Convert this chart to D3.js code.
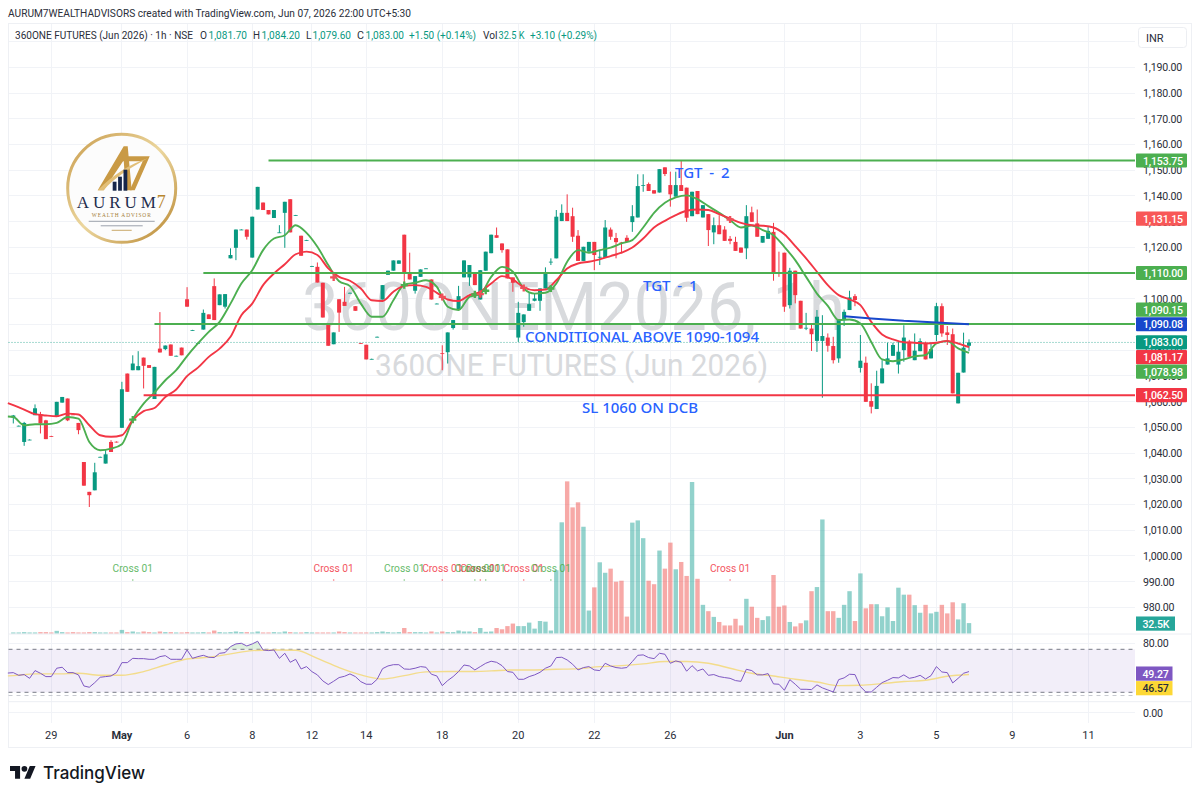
<!DOCTYPE html>
<html>
<head>
<meta charset="utf-8">
<style>
  html, body { margin: 0; padding: 0; background: #fff; }
  svg { display: block; }
  text { font-family: Roboto, sans-serif; }
</style>
</head>
<body>
<div id="chart"></div>
<script src="https://cdnjs.cloudflare.com/ajax/libs/d3/7.8.5/d3.min.js"></script>
<script>
// 1h bars, index 0 .. 176
var opens = [1053.8,1050.5,1044.3,1045.1,1054.7,1055.1,1052.7,1046.6,1054.05,1059.6,1061.2,1055,1051.7,1036.5,1024.9,1025.5,1038.4,1035.9,1044.3,1044.4,
  1049.8,1070.9,1072.2,1072.2,1077.1,1074.2,1061,1080.6,1080.4,1082.2,1077.7,1081,1099.8,1087.7,1082.7,1088,1093.9,1104.9,1097.5,1096.9,
  1115.7,1119.8,1126.8,1126.9,1116,1134.7,1137.4,1134.5,1131.4,1125.7,1133.4,1138.7,1132.4,1124.5,1122.7,1112.6,1112.4,1106.2,1090,1082.3,
  1099.8,1098.8,1102.2,1097.1,1082.7,1082.1,1076.5,1085.1,1099.7,1109.3,1110.9,1113.6,1124.9,1109.8,1103.1,1108.5,1111.7,1107.5,1098,1078.8,
  1079.2,1088.6,1095.8,1108.3,1108.3,1109.8,1099.7,1110.9,1117.7,1124.7,1121.5,1119.2,1108.3,1084.9,1090.9,1095.3,1099.2,1099.2,1104,1114.3,
  1115.7,1130.2,1133.4,1132.1,1124.5,1114.7,1118.3,1122.1,1116.2,1115.9,1126.9,1123.6,1121.9,1123.7,1129.8,1131.6,1144.1,1144.6,1142.2,1141.3,
  1151.1,1144.2,1139.7,1144.2,1143.2,1132.1,1141.9,1131.6,1132.9,1125.8,1128.6,1126.9,1123.3,1122.1,1119.9,1119.6,1133.6,1129.3,1121.8,1123.3,
  1126,1110.2,1117.9,1097.5,1110.9,1099.2,1088.6,1088.4,1083.6,1083.6,1084.9,1081.6,1076.8,1091.7,1095.6,1101,1073.1,1075.1,1060.2,1057.1,
  1067.1,1074.4,1077.8,1074.4,1080,1083.3,1076.1,1079.6,1082.4,1076.8,1085.9,1097.1,1086.9,1086.2,1059.3,1071.3,1081.7];
var highs = [1054.8,1050.7,1052.1,1045.3,1058.9,1056,1052.9,1046.7,1059.9,1061.8,1061.2,1055.2,1051.7,1036.5,1024.9,1036.2,1038.6,1041.3,1045,1044.5,
  1067.7,1070.9,1078,1079.6,1077.1,1074.2,1073.5,1094.8,1081.8,1082.2,1077.9,1081,1104.5,1087.9,1082.9,1095.8,1093.9,1107.9,1101.7,1101.8,
  1119.6,1126.9,1127,1126.9,1131.9,1143.5,1137.4,1134.5,1134.5,1128.6,1137.7,1138.7,1132.6,1124.5,1122.9,1112.8,1114.1,1106.2,1090,1086.9,
  1099.8,1104.6,1102.4,1097.1,1082.8,1082.1,1076.7,1085.3,1105.3,1110.9,1114.9,1114.9,1124.9,1117.9,1108.8,1111.4,1111.9,1107.5,1098.2,1081.9,
  1086.9,1091.7,1105,1114.9,1113.1,1109.8,1111.1,1118.3,1124.9,1127.7,1121.5,1119.2,1108.3,1098.8,1093.9,1102.3,1102,1104,1112.2,1115.7,
  1134.5,1136.7,1140.6,1135.4,1126.7,1120.2,1122.1,1122.1,1118.6,1130.6,1127.7,1125.6,1122.1,1124.7,1136.4,1148.4,1148.4,1145.2,1142.2,1150.4,
  1151.1,1149.4,1149.4,1153.7,1143.2,1141.6,1141.9,1136.4,1132.9,1131.6,1132.5,1128.2,1124.4,1124.1,1119.9,1136.4,1135.8,1134.7,1124.4,1128.2,
  1129.5,1118.3,1117.9,1112,1110.9,1099.2,1094.5,1090,1095.6,1093.6,1086.5,1085.2,1092,1095.8,1103.1,1101.8,1085.9,1077.5,1067.1,1072,
  1076.1,1082.9,1082.9,1083.3,1089.7,1084,1086.5,1084.6,1083.3,1083,1098.4,1098.2,1089.4,1088.4,1071.2,1086.8,1084.2];
var lows = [1051.5,1050.4,1042.8,1045,1054.7,1047.6,1045.4,1046.3,1054,1059.6,1052.4,1054.8,1047.3,1027.3,1019,1025.5,1038.3,1035.9,1040.4,1044.1,
  1049.8,1063.8,1072.2,1072.2,1065.1,1073.1,1061,1079.1,1080,1077.8,1077.6,1078,1096.9,1087.6,1082.6,1088,1092.1,1091.7,1097.5,1096.2,
  1115.7,1115,1126.7,1123,1116,1134.7,1134.5,1132.8,1131.4,1125.6,1119.8,1125.8,1132.3,1116.7,1122.6,1112.5,1106.3,1092.7,1081.7,1082.3,
  1087.1,1097.2,1102.1,1095.3,1082.5,1076.4,1076.4,1085,1099.7,1109.3,1110.9,1113.6,1104.6,1107.5,1102,1108.5,1111.6,1099.7,1097.9,1072.2,
  1074.8,1088,1095.8,1108.3,1105,1105.3,1099.7,1110.9,1117.7,1123.7,1117.9,1107.9,1102.7,1083.2,1089.1,1095.3,1099,1095.3,1104,1113.1,
  1115.7,1130.2,1130.2,1122.1,1114.7,1114.7,1118.3,1111.1,1113.1,1115.9,1122.9,1115.7,1117.6,1122.1,1126,1131.6,1141.6,1141.9,1140.9,1141.3,
  1147.7,1135.8,1139.7,1141.9,1129.9,1132.1,1132.9,1131.6,1120.5,1121.2,1125.1,1122.5,1121.2,1118.6,1117.9,1115.4,1129.9,1124.1,1121.8,1123.3,
  1107,1108.5,1094.9,1096.2,1098.2,1088.4,1087.8,1079.7,1079.3,1061.5,1079.4,1074.8,1075.1,1089.4,1095.6,1097.1,1071.3,1059.9,1055.4,1057.1,
  1067.1,1074.4,1077.8,1070.9,1075.5,1077.4,1076.1,1079.6,1076.4,1076.8,1083.5,1085.2,1082,1063.2,1059.3,1071.3,1079.6];
var closes = [1054.6,1050.6,1051.7,1045.2,1057.4,1051.5,1045.4,1046.4,1059.9,1061.8,1052.7,1054.9,1048.9,1027.3,1023.6,1032.5,1038.5,1039.5,1040.4,1044.2,
  1064.8,1063.8,1074.8,1073.8,1073.9,1073.1,1073.5,1079.1,1081.8,1077.8,1077.8,1078,1096.9,1087.8,1082.8,1094.5,1092.1,1091.7,1101.7,1101.8,
  1117,1126.9,1126.9,1124.1,1131.9,1143.5,1134.5,1132.8,1134.5,1125.8,1137.7,1125.8,1132.5,1116.7,1122.8,1112.7,1106.3,1092.7,1081.7,1086.9,
  1094.6,1097.2,1102.3,1095.3,1082.6,1076.4,1076.6,1085.2,1105.3,1110.9,1114.9,1114.9,1109.8,1107.5,1108.8,1111.4,1111.8,1099.7,1098.1,1078.7,
  1086.9,1091.7,1101,1114.9,1113.1,1105.3,1111.1,1118.3,1124.9,1123.7,1118.9,1107.9,1106.2,1094.5,1093.9,1097.9,1100.1,1104,1109.8,1114.4,
  1131.9,1133.4,1130.2,1124.1,1114.7,1120.2,1122.1,1117,1116.3,1127.7,1124.1,1122,1121.7,1122.1,1132.1,1143.8,1144.2,1141.9,1140.9,1150.4,
  1148.5,1140.6,1144.2,1141.9,1131.5,1141.6,1132.9,1136.4,1126.7,1128.6,1125.1,1122.5,1122.5,1118.6,1117.9,1132.1,1129.9,1124.1,1124.4,1126.4,
  1110.1,1110.1,1096.9,1110.9,1101.4,1088.4,1088.7,1086.2,1093,1085.5,1081.7,1076.1,1091.9,1094.9,1100.5,1099.5,1075.9,1059.9,1058,1066.1,
  1072.9,1076.8,1082,1079.4,1084.9,1077.4,1079.8,1083.5,1076.4,1080.4,1097.1,1086.5,1085.9,1063.2,1071.2,1081,1083];
var volumes = [3,3,4,3,3,4,4,3,8,4,3,4,3,3,4,4,3,3,3,3,
  11,4,6,3,6,4,3,6,4,4,3,3,4,3,3,4,3,9,4,3,
  4,6,4,4,3,6,3,3,4,3,6,4,3,3,4,3,3,3,3,3,
  6,4,3,3,3,3,3,4,6,4,3,4,17,4,4,4,3,6,3,6,
  4,4,9,6,6,4,17,5,6,17,13,23,31,23,23,34,15,39,37,9,
  199,350,479,397,413,336,72,145,224,191,204,163,166,53,349,356,300,166,155,261,
  204,286,202,225,181,477,172,90,70,52,36,25,25,46,25,109,84,49,42,54,
  184,84,88,36,22,32,41,133,146,359,70,70,49,90,133,39,189,79,92,92,
  54,82,39,144,122,122,89,65,90,63,68,90,63,98,44,95,32.5];

// moving averages, read every second bar
var maStep = 2;
var maSlow = [1058.6,1056.9,1055.1,1054.6,1054.3,1055.3,1055,1050.8,1046.9,1046.3,1046.9,1052.8,1056.3,1057.5,1061.8,1064.7,1069.9,1073.2,1077.4,1080.6,1085.2,1093.6,1098.1,1105.3,1109.8,1113.4,1117.3,
  1118.3,1117,1111.8,1108.5,1107,1104,1099.4,1099.1,1102.7,1105,1105.3,1104.6,1102.3,1099.7,1099.1,1101.4,1102.7,1105.9,1108.8,1107.5,1104.4,1103.3,1103.6,1107.2,1111.8,1113.7,1114.4,
  1115.3,1116.6,1117.9,1119.9,1123.4,1127.7,1130.3,1132.5,1134.2,1134.7,1134.5,1132.9,1131.2,1129.5,1128.6,1128.4,1127.7,1125.1,1120.5,1115.7,1110.5,1105.3,1101.4,1099.7,1097.5,1091,
  1086.1,1084.2,1083.1,1082.9,1082.6,1082.9,1083.6,1082.6,1081.17];
var maFast = [1054,1050.8,1051.2,1051.2,1051.7,1054,1053.4,1044.3,1041.1,1041.7,1043.4,1053,1059.2,1063.5,1068.3,1072.2,1077.7,1082.6,1087.1,1091,1098.1,1105.9,1111.1,1118.9,1123.4,1124.7,1128.6,
  1125.6,1120.2,1113.1,1106.8,1104.9,1098.1,1093,1093,1099.4,1105.5,1106.2,1107.2,1104.6,1096.9,1095.6,1100.7,1101.8,1108.5,1112.4,1110.5,1104,1102,1102.3,1105.9,1114.4,1118.9,1117.9,
  1118.9,1119.9,1121.5,1122.8,1127.7,1133.4,1137.3,1139.4,1140.2,1138.7,1136,1133.4,1130.6,1127.7,1128.5,1126.7,1124.7,1120.2,1115,1108.5,1102,1097.2,1091.7,1091.9,1090.4,1083.2,
  1076.4,1075.7,1076.4,1077.6,1078.1,1082.6,1083.5,1080.7,1078.98];
// the lines come in from the bar just left of the frame
var leadBar = -1;
var maSlowLead = 1059.4, maFastLead = 1054.2, rsiLead = 47.9, rsiMaLead = 45.3;
var blueBars = [153,158,164,170,176];
var blueValues = [1093.2,1092.3,1091.4,1090.8,1090.08];

// horizontal levels and where they start (bar index)
var levelValues = [1153.75,1110,1090.15,1062.5];
var levelStart = [47,35,26,24];
var levelColors = ["#4caf50","#4caf50","#4caf50","#f23645"];
var lastPrice = 1083;

// RSI
var rsiValues = [48.3,45.8,46.5,43,50.2,47.7,44.6,44.6,52.4,53.3,48.3,48.3,46.2,35.9,34.7,39,44,44.6,45.2,48.3,57.6,57.6,61.6,61.3,61.3,60.7,60.7,63.2,64.1,60.7,60.7,60.7,69.4,61.6,63.2,64.4,62.6,62.3,66.3,66.9,
  72.5,75,75.6,73.1,75,77.5,69.4,68.8,69.4,61.6,66.3,57.9,60.7,51.7,53.9,49.2,46.2,40.6,37.2,40.3,43.7,44.9,47.1,44.6,39.9,37.5,37.5,42.1,52,54.5,55.7,55.7,
  51.7,51.4,52.4,53.9,53.3,46.8,45.2,36.2,40.9,44.6,49.3,55.4,54.5,50.8,53.9,57,58.9,57.9,54.8,49.3,48.6,42.1,42.1,44.6,46.2,48.6,52.4,54.5,62.3,62.6,60.1,56.1,50.8,53,53.9,50.8,50.2,57,54.5,53,52.4,53,58.6,64.4,64.8,62.3,61.3,66.3,65.4,57,59.2,57.9,49.6,54.8,49.9,51.7,45.8,46.5,44.6,
  43.7,43,40.9,40.2,51.4,50.2,46.2,46.2,47.4,37.8,37.5,31.9,41.8,37.5,32.8,32.8,32.5,36.9,34.1,32.2,30.3,41.8,43.4,46.8,46.5,35.3,30.3,30.3,34.7,39,41.2,43.7,43.4,46.2,43,44,45.8,42.4,45.5,53.9,48.9,48.3,38.7,43,47.7,49.27];
var rsiMaStep = 4;
var rsiMa = [45.5,47.1,47.1,47.7,45.8,45.8,49.2,55.4,61,62.6,65.7,68.8,69.4,69.1,61.6,53,46.2,42.4,45.5,49,49.3,49.3,49.9,50.8,50.8,51.4,52,53.9,54.8,56.4,58.6,58.6,57,52.4,47.7,45.2,42.1,39.6,36.2,36.5,38.1,40,41.2,44.9,46.57];
var rsiBands = [70,30];
var rsiExtra = 27;

// axes
var priceTicks = d3.range(980, 1201, 10);
var rsiTicks = [80, 0];
var dateBars = [7,20,32,44,55,65,79,93,107,121,142,156,170,184,198];
var dateLabels = ["29","May","6","8","12","14","18","20","22","26","Jun","3","5","9","11"];

// Cross 01 script markers
var crossBars = [22,59,72,79,85,86,87,94,99,132];
var crossPrices = [1053,1108.3,1105.3,1100.7,1101.7,1101.8,1103.1,1104.2,1104,1130.8];
var crossUp = [true,false,true,false,true,false,true,false,true,false];

// price axis pills
var pillValues = [1153.75,1131.15,1110,1090.15,1090.08,1083,1081.17,1078.98,1062.5];
var pillColors = ["#4caf50","#f85757","#4caf50","#4caf50","#1848cc","#089981","#f23645","#4caf50","#f23645"];

var upColor = "#089981", downColor = "#f23645";
var width = 1200, height = 799;
var left = 8.5, right = 1135, paneBottom = 722.5;

var svg = d3.select("#chart").append("svg").attr("width", width).attr("height", height);

var x = d3.scaleLinear().domain([0, 176]).range([13.3, 969]);
var y = d3.scaleLinear().domain([980, 1190]).range([607.3, 67.3]);
var yVol = d3.scaleLinear().domain([0, 500]).range([633.4, 474.7]);
var yRsi = d3.scaleLinear().domain([70, 30]).range([649.3, 692.3]);
var yRsiAxis = d3.scaleLinear().domain([0, 80]).range([712.5, 643]);

var green = "#4caf50", red = "#f23645", blue = "#2962ff";

// axis text helper, narrows Roboto down to the width of the original labels
function axisText(sel) {
  return sel.attr("font-size", 10.6).attr("letter-spacing", -0.2).attr("fill", "#2a2e39");
}

// page frame
svg.append("rect").attr("x", left).attr("y", 23.5).attr("width", 1183).attr("height", 724)
  .attr("fill", "none").attr("stroke", "#eef0f4");

// title
svg.append("text").attr("x", 8).attr("y", 17).attr("font-size", 10.9).attr("fill", "#2a2e39")
  .attr("textLength", 403).attr("lengthAdjust", "spacingAndGlyphs")
  .text("AURUM7WEALTHADVISORS created with TradingView.com, Jun 07, 2026 22:00 UTC+5:30");

// grid
var grid = svg.append("g").attr("stroke", "#f1f3f7").attr("shape-rendering", "crispEdges");
grid.selectAll(".v").data(dateBars).enter().append("line")
  .attr("x1", function(d) { return x(d); }).attr("x2", function(d) { return x(d); })
  .attr("y1", 24).attr("y2", paneBottom);
grid.selectAll(".h").data(priceTicks).enter().append("line")
  .attr("x1", left).attr("x2", right)
  .attr("y1", function(d) { return y(d); }).attr("y2", function(d) { return y(d); });
grid.selectAll(".r").data(rsiTicks).enter().append("line")
  .attr("x1", left).attr("x2", right)
  .attr("y1", function(d) { return yRsiAxis(d); }).attr("y2", function(d) { return yRsiAxis(d); });

// pane separators run through the price axis too
svg.selectAll(".sep").data([634, 701.7]).enter().append("line")
  .attr("x1", left).attr("x2", 1191.5).attr("y1", function(d) { return d; }).attr("y2", function(d) { return d; })
  .attr("stroke", "#eceef3");

// watermark
svg.append("text").attr("x", 302).attr("y", 330).attr("font-size", 66).attr("fill", "#d8dadd")
  .attr("textLength", 543).attr("lengthAdjust", "spacingAndGlyphs")
  .text("360ONEM2026, 1h");
svg.append("text").attr("x", 375).attr("y", 376).attr("font-size", 31).attr("fill", "#d8dadd")
  .attr("textLength", 393).attr("lengthAdjust", "spacingAndGlyphs")
  .text("360ONE FUTURES (Jun 2026)");

// volume
svg.append("g").selectAll("rect").data(volumes).enter().append("rect")
  .attr("x", function(d, i) { return x(i) - 2.2; })
  .attr("width", 4.4)
  .attr("y", function(d) { return yVol(d); })
  .attr("height", function(d) { return yVol(0) - yVol(d); })
  .attr("fill", function(d, i) { return closes[i] >= opens[i] ? "#26a69a" : "#ef5350"; })
  .attr("opacity", 0.5);

// last price line
svg.append("line").attr("x1", left).attr("x2", right).attr("y1", y(lastPrice)).attr("y2", y(lastPrice))
  .attr("stroke", upColor).attr("stroke-dasharray", "1 2").attr("opacity", 0.7);

// candles
var candles = svg.append("g").selectAll("g").data(closes).enter().append("g")
  .attr("fill", function(d, i) { return d >= opens[i] ? upColor : downColor; })
  .attr("stroke", function(d, i) { return d >= opens[i] ? upColor : downColor; });
candles.append("line")
  .attr("x1", function(d, i) { return x(i); }).attr("x2", function(d, i) { return x(i); })
  .attr("y1", function(d, i) { return y(highs[i]); }).attr("y2", function(d, i) { return y(lows[i]); })
  .attr("stroke-width", 1);
candles.append("rect")
  .attr("x", function(d, i) { return x(i) - 2; })
  .attr("width", 4)
  .attr("y", function(d, i) { return y(Math.max(d, opens[i])); })
  .attr("height", function(d, i) { return Math.max(0.8, Math.abs(y(d) - y(opens[i]))); })
  .attr("stroke", "none");

// moving averages, [bar, value] pairs with the lead point in front
function withLead(values, step, lead) {
  var pts = values.map(function(v, i) { return [i * step, v]; });
  pts.unshift([leadBar, lead]);
  return pts;
}
var maLine = d3.line().x(function(d) { return x(d[0]); }).y(function(d) { return y(d[1]); }).curve(d3.curveMonotoneX);
svg.append("path").datum(withLead(maFast, maStep, maFastLead)).attr("d", maLine).attr("fill", "none").attr("stroke", green).attr("stroke-width", 1.9);
svg.append("path").datum(withLead(maSlow, maStep, maSlowLead)).attr("d", maLine).attr("fill", "none").attr("stroke", red).attr("stroke-width", 1.9);

// levels
svg.selectAll(".level").data(levelValues).enter().append("line")
  .attr("x1", function(d, i) { return x(levelStart[i]); }).attr("x2", right)
  .attr("y1", function(d) { return y(d); }).attr("y2", function(d) { return y(d); })
  .attr("stroke", function(d, i) { return levelColors[i]; }).attr("stroke-width", 2);

svg.append("path").datum(blueValues)
  .attr("d", d3.line().x(function(d, i) { return x(blueBars[i]); }).y(function(d) { return y(d); }))
  .attr("fill", "none").attr("stroke", "#1848cc").attr("stroke-width", 2);

// cross plus marks on the averages
svg.append("g").selectAll("path").data(crossBars).enter().append("path")
  .attr("d", d3.symbol().type(d3.symbolCross).size(28))
  .attr("transform", function(d, i) { return "translate(" + x(d) + "," + y(crossPrices[i]) + ")"; })
  .attr("fill", function(d, i) { return crossUp[i] ? green : "#f0505a"; });

// Cross 01 labels and their little dots
svg.selectAll(".crossdot").data(crossBars).enter().append("circle")
  .attr("cx", function(d) { return x(d); }).attr("cy", 580).attr("r", 0.8)
  .attr("fill", function(d, i) { return crossUp[i] ? green : red; }).attr("opacity", 0.7);
svg.selectAll(".crosstext").data(crossBars).enter().append("text")
  .attr("x", function(d) { return x(d); }).attr("y", 572).attr("text-anchor", "middle")
  .attr("font-size", 10.2).attr("opacity", 0.85)
  .attr("fill", function(d, i) { return crossUp[i] ? green : red; })
  .text("Cross 01");

// annotations
var notes = [["TGT - 2", 675, 178, 3], ["TGT - 1", 643, 291, 3], ["CONDITIONAL ABOVE 1090-1094", 525, 342, 0], ["SL 1060 ON DCB", 582, 413, 0]];
svg.selectAll(".note").data(notes).enter().append("text")
  .attr("x", function(d) { return d[1]; }).attr("y", function(d) { return d[2]; })
  .attr("word-spacing", function(d) { return d[3]; })
  .attr("font-size", 15).attr("fill", blue).attr("font-weight", 500)
  .style("font-family", "'Noto Sans', sans-serif")
  .text(function(d) { return d[0]; });

// RSI pane
svg.append("rect").attr("x", left).attr("width", right - left)
  .attr("y", yRsi(70)).attr("height", yRsi(30) - yRsi(70))
  .attr("fill", "#7e57c2").attr("opacity", 0.1);
var rsiPts = withLead(rsiValues, 1, rsiLead);
svg.append("path").datum(rsiPts)
  .attr("d", d3.area().x(function(d) { return x(d[0]); })
    .y0(yRsi(70)).y1(function(d) { return yRsi(Math.max(d[1], 70)); }))
  .attr("fill", "#4caf50").attr("opacity", 0.18);
svg.selectAll(".band").data(rsiBands).enter().append("line")
  .attr("x1", left).attr("x2", right)
  .attr("y1", function(d) { return yRsi(d); }).attr("y2", function(d) { return yRsi(d); })
  .attr("stroke", "#787b86").attr("stroke-dasharray", "4 4");
svg.append("line").attr("x1", left).attr("x2", right).attr("y1", yRsi(rsiExtra)).attr("y2", yRsi(rsiExtra))
  .attr("stroke", "#c9cbd1").attr("stroke-dasharray", "4 4");
svg.append("path").datum(withLead(rsiMa, rsiMaStep, rsiMaLead))
  .attr("d", d3.line().x(function(d) { return x(d[0]); }).y(function(d) { return yRsi(d[1]); }).curve(d3.curveMonotoneX))
  .attr("fill", "none").attr("stroke", "#f3dc8b").attr("stroke-width", 1.4);
svg.append("path").datum(rsiPts)
  .attr("d", d3.line().x(function(d) { return x(d[0]); }).y(function(d) { return yRsi(d[1]); }))
  .attr("fill", "none").attr("stroke", "#7e57c2").attr("stroke-width", 1);

// time axis labels
svg.selectAll(".date").data(dateLabels).enter().append("text")
  .attr("x", function(d, i) { return x(dateBars[i]); }).attr("y", 739).attr("text-anchor", "middle")
  .attr("font-size", 11).attr("fill", "#2a2e39")
  .attr("font-weight", function(d) { return isNaN(+d) ? 700 : 400; })
  .text(function(d) { return d; });

// price axis labels (later pills cover the ticks they sit on, as in the original)
var axisFmt = d3.format(",.2f");
axisText(svg.selectAll(".ptick").data(priceTicks.filter(function(d) { return d < 1200; })).enter().append("text")
  .attr("x", 1143).attr("y", function(d) { return y(d) + 4; })
  .text(function(d) { return axisFmt(d); }));
axisText(svg.selectAll(".rtick").data(rsiTicks).enter().append("text")
  .attr("x", 1143).attr("y", function(d) { return yRsiAxis(d) + 4; })
  .text(function(d) { return axisFmt(d); }));

// pills stack: anchor on the 1090.08 label and push the neighbours away from it
var pillH = 14.6;
var pillY = pillValues.map(function(v) { return y(v); });
var anchor = pillValues.indexOf(1090.08);
for (var k = anchor + 1; k < pillY.length; k++) pillY[k] = Math.max(pillY[k], pillY[k - 1] + pillH);
for (k = anchor - 1; k >= 0; k--) pillY[k] = Math.min(pillY[k], pillY[k + 1] - pillH);

var pillG = svg.selectAll(".pill").data(pillValues).enter().append("g");
pillG.append("rect").attr("x", 1136).attr("width", 51).attr("height", 14.2)
  .attr("y", function(d, i) { return pillY[i] - 7.1; })
  .attr("rx", 1)
  .attr("fill", function(d, i) { return pillColors[i]; });
axisText(pillG.append("text").attr("x", 1143).attr("y", function(d, i) { return pillY[i] + 4; })
  .text(function(d) { return axisFmt(d); }))
  .attr("font-weight", 500).attr("fill", "#fff");

// volume and rsi pills
var smallPills = [
  { text: "32.5K", y: yVol(32.5) + 0.5, w: 39, fill: "#26a69a", color: "#fff" },
  { text: "49.27", y: yRsi(49.27) + 2, w: 36.5, fill: "#7e57c2", color: "#fff" },
  { text: "46.57", y: yRsi(49.27) + 16.6, w: 36.5, fill: "#fdd835", color: "#2a2e39" }
];
var sp = svg.selectAll(".sp").data(smallPills).enter().append("g");
sp.append("rect").attr("x", 1136).attr("width", function(d) { return d.w; }).attr("height", 14.2)
  .attr("y", function(d) { return d.y - 7.1; }).attr("fill", function(d) { return d.fill; });
axisText(sp.append("text").attr("x", 1142.5).attr("y", function(d) { return d.y + 4; })
  .text(function(d) { return d.text; }))
  .attr("font-weight", 500).attr("fill", function(d) { return d.color; });

// currency button
svg.append("rect").attr("x", 1138.5).attr("y", 27.5).attr("width", 48).attr("height", 20).attr("rx", 3)
  .attr("fill", "#fff").attr("stroke", "#eceef2");
svg.append("text").attr("x", 1146).attr("y", 42).attr("font-size", 11).attr("fill", "#2a2e39").text("INR");

// legend row, each piece squeezed to the width it has in the original
var legendParts = [
  ["360ONE FUTURES (Jun 2026) · 1h · NSE", 15, "#2a2e39", 178],
  ["O", 200, "#2a2e39", 7], ["1,081.70", 208.5, upColor, 38.5],
  ["H", 253, "#2a2e39", 7], ["1,084.20", 261.5, upColor, 38.5],
  ["L", 306, "#2a2e39", 5.5], ["1,079.60", 312.5, upColor, 38.5],
  ["C", 357, "#2a2e39", 7], ["1,083.00", 365.5, upColor, 38.5],
  ["+1.50 (+0.14%)", 409, upColor, 67],
  ["Vol", 483, "#2a2e39", 14.5], ["32.5 K", 498.5, upColor, 26],
  ["+3.10 (+0.29%)", 530, upColor, 67]
];
svg.selectAll(".legend").data(legendParts).enter().append("text")
  .attr("x", function(d) { return d[1]; }).attr("y", 39).attr("font-size", 11)
  .attr("fill", function(d) { return d[2]; })
  .attr("textLength", function(d) { return d[3]; }).attr("lengthAdjust", "spacingAndGlyphs")
  .text(function(d) { return d[0]; });

// AURUM7 logo
var defs = svg.append("defs");
var gold = defs.append("linearGradient").attr("id", "gold").attr("x1", 0).attr("y1", 0).attr("x2", 1).attr("y2", 1);
gold.append("stop").attr("offset", "0%").attr("stop-color", "#c89b4b");
gold.append("stop").attr("offset", "50%").attr("stop-color", "#ecd79f");
gold.append("stop").attr("offset", "100%").attr("stop-color", "#b8862f");
var logo = svg.append("g").attr("transform", "translate(121.7,188.3)");
logo.append("circle").attr("r", 54).attr("fill", "#fcfcfc").attr("stroke", "url(#gold)").attr("stroke-width", 3);
logo.append("path").attr("d", "M-24,2 L2,-42 L6,-42 L10,2 L4,2 L2,-28 L-18,2 Z").attr("fill", "#c99a45");
logo.append("path").attr("d", "M1,-32 L28,-32 L13,2 L8,2 L21,-27 L1,-27 Z").attr("fill", "#c99a45");
logo.append("path").attr("d", "M-24,2 C-8,-14 8,-24 26,-30 C8,-20 -8,-10 -18,2 Z").attr("fill", "#e2bf78");
logo.selectAll(".bar").data([9, 14, 21]).enter().append("rect")
  .attr("x", function(d, i) { return -9 + i * 5.4; }).attr("width", 3.8)
  .attr("y", function(d) { return 2.4 - d; }).attr("height", function(d) { return d; })
  .attr("fill", "#16264a");
logo.append("text").attr("x", -45).attr("y", 20).attr("font-size", 17).attr("letter-spacing", 4)
  .style("font-family", "'Liberation Serif', serif").attr("fill", "#1f2d4d").text("AURUM");
logo.append("text").attr("x", 35).attr("y", 20).attr("font-size", 18)
  .style("font-family", "'Liberation Serif', serif").attr("fill", "#b8862f").text("7");
logo.append("text").attr("x", 0).attr("y", 29).attr("text-anchor", "middle").attr("font-size", 5.4).attr("letter-spacing", 0.9)
  .style("font-family", "'Liberation Serif', serif").attr("fill", "#a47d38").text("WEALTH ADVISOR");
logo.selectAll(".thin").data([[-33, 33, 33, "#9aa0ab"], [-21, 21, 37.5, "#9aa0ab"], [-10, 10, 42, "#c9a86a"]]).enter().append("line")
  .attr("x1", function(d) { return d[0]; }).attr("x2", function(d) { return d[1]; })
  .attr("y1", function(d) { return d[2]; }).attr("y2", function(d) { return d[2]; })
  .attr("stroke", function(d) { return d[3]; }).attr("stroke-width", 1);

// TradingView mark
var tv = svg.append("g").attr("transform", "translate(10,763) scale(0.72)");
tv.append("path").attr("d", "M14 22H7V11H0V4h14v18zM28 22h-8l7.5-18h8L28 22z").attr("fill", "#131722");
tv.append("circle").attr("cx", 20).attr("cy", 8).attr("r", 4).attr("fill", "#131722");
svg.append("text").attr("x", 43).attr("y", 778.5).attr("font-size", 17.5).attr("font-weight", 500).attr("fill", "#131722")
  .style("font-family", "Inter, sans-serif").attr("textLength", 102).attr("lengthAdjust", "spacingAndGlyphs").text("TradingView");
</script>
</body>
</html>
